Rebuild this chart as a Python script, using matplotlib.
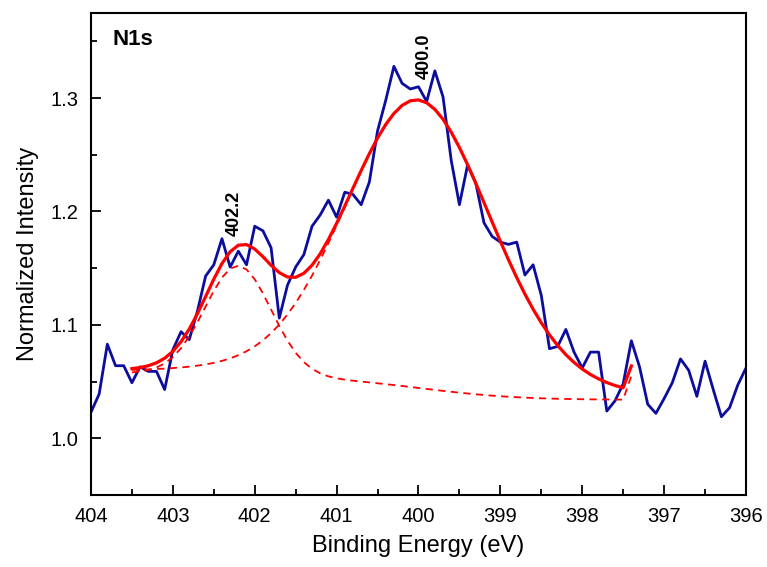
import numpy as np
import matplotlib
matplotlib.use('Agg')
import matplotlib.pyplot as plt

plt.rcParams['font.family'] = ['Liberation Sans', 'DejaVu Sans']

#--------------------------datos------------------------------------
# N1s spectrum, 0.1 eV step
be = np.linspace(404.0, 396.0, 81)
intensity = [1.023, 1.039, 1.083, 1.064, 1.064, 1.049, 1.063, 1.059, 1.059, 1.043,
             1.078, 1.094, 1.087, 1.112, 1.143, 1.153, 1.176, 1.151, 1.165, 1.153,
             1.187, 1.183, 1.168, 1.106, 1.135, 1.151, 1.162, 1.187, 1.197, 1.210,
             1.195, 1.217, 1.215, 1.206, 1.226, 1.271, 1.298, 1.328, 1.313, 1.308,
             1.310, 1.297, 1.324, 1.301, 1.245, 1.206, 1.241, 1.225, 1.190, 1.178,
             1.173, 1.171, 1.173, 1.144, 1.153, 1.126, 1.079, 1.081, 1.096, 1.076,
             1.062, 1.076, 1.076, 1.024, 1.033, 1.048, 1.086, 1.063, 1.030, 1.022,
             1.035, 1.049, 1.070, 1.060, 1.037, 1.068, 1.043, 1.019, 1.027, 1.047,
             1.062]

# fitted components (pseudo-Voigt)
peak_centers = [402.2, 400.0]
peak_heights = [0.097, 0.254]
peak_fwhm = [0.96, 2.12]
peak_lor = [0.05, 0.15]
peak_labels = ['402.2', '400.0']

# Shirley background end points
bg_high = 1.057
bg_low = 1.034
bg_end = 1.055
fit_start, fit_stop = 5, 67   # indices of the fitted window


def pvoigt(x, c, h, w, m):
    d2 = (x - c) ** 2 / w ** 2
    return h * ((1 - m) * np.exp(-4 * np.log(2) * d2) + m / (1 + 4 * d2))


xf = be[fit_start:fit_stop]
peaks = [pvoigt(xf, c, h, w, m) for c, h, w, m in
         zip(peak_centers, peak_heights, peak_fwhm, peak_lor)]
suma = peaks[0] + peaks[1]
cum = np.cumsum(suma[::-1])[::-1]
bg = bg_low + (bg_high - bg_low) * cum / cum[0]
bg[-1] = bg_end

#--------------------------grafica----------------------------------
fig = plt.figure(figsize=(7.67, 5.67), dpi=100)
ax = fig.add_axes([0.1186, 0.127, 0.854, 0.850])

ax.plot(be, intensity, color='#0c0c9e', lw=2.0)
for p in peaks:
    ax.plot(xf, bg + p, color='#ff0000', lw=1.3, dashes=(4, 3))
ax.plot(xf, bg + suma, color='#ff0000', lw=2.3)

for c, lab, y, dx in zip(peak_centers, peak_labels, [1.178, 1.317], [-3, 4]):
    ax.annotate(lab, xy=(c, y), xytext=(dx, 0), textcoords='offset points',
                rotation=90, ha='center', va='bottom', fontsize=13, fontweight='bold')

ax.text(0.033, 0.946, 'N1s', transform=ax.transAxes, fontsize=16,
        fontweight='bold', ha='left', va='center')

ax.set_xlim(404, 396)
ax.set_ylim(0.95, 1.375)
ax.set_xticks(np.arange(396, 405, 1))
ax.set_xticks(np.arange(396.5, 404, 1), minor=True)
ax.set_yticks([1.0, 1.1, 1.2, 1.3])
ax.set_yticks([0.95, 1.05, 1.15, 1.25, 1.35], minor=True)
ax.set_yticklabels(['1.0', '1.1', '1.2', '1.3'])
ax.tick_params(which='both', direction='in', labelsize=14.5, width=1.3, pad=9)
ax.tick_params(which='major', length=7)
ax.tick_params(which='minor', length=4)
for s in ax.spines.values():
    s.set_linewidth(1.5)

ax.set_xlabel('Binding Energy (eV)', fontsize=17, labelpad=6)
ax.set_ylabel('Normalized Intensity', fontsize=17, labelpad=8)

fig.savefig('out.png', dpi=100)
